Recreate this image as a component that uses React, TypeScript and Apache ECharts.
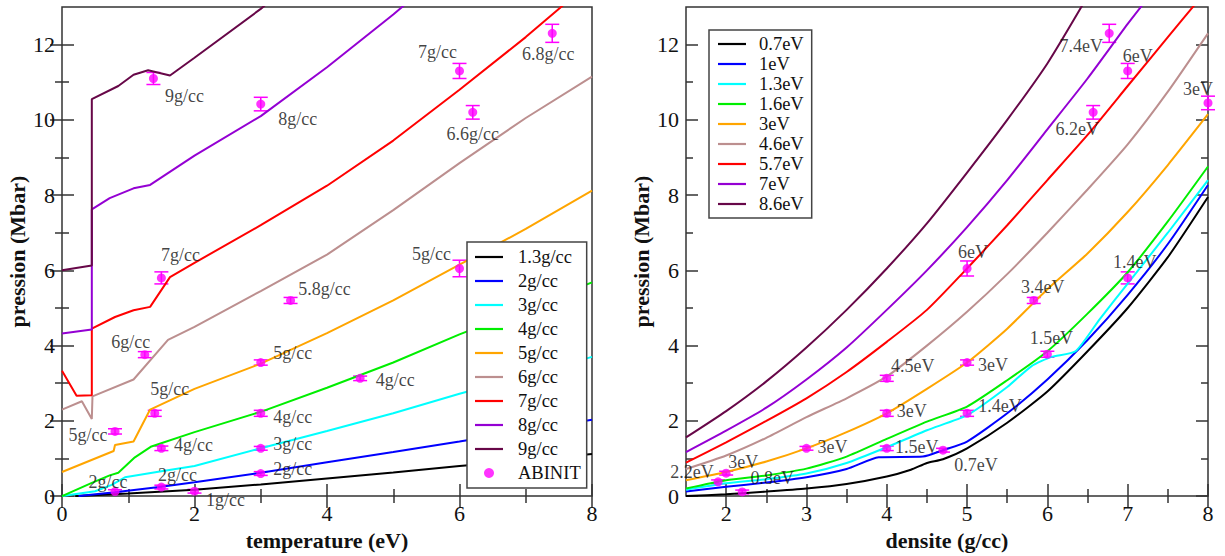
import React, { useEffect, useRef } from 'react';
import * as echarts from 'echarts';

const FONT = 'Liberation Serif';

// ---------- Left panel: pression vs temperature (fixed density) ----------
const leftNames = ['1.3g/cc', '2g/cc', '3g/cc', '4g/cc', '5g/cc', '6g/cc', '7g/cc', '8g/cc', '9g/cc'];
const rho13 = [[0.2, 0], [1, 0.07], [2, 0.17], [3, 0.31], [4, 0.47], [5, 0.63], [6, 0.8], [7, 0.95], [8, 1.12]];
const rho2 = [[0.25, 0], [0.8, 0.1], [1.5, 0.25], [2, 0.37], [3, 0.62], [4, 0.9], [5, 1.17], [6, 1.45], [7, 1.74], [8, 2.03]];
const rho3 = [[0, 0], [0.5, 0.13], [0.75, 0.3], [0.95, 0.5], [1.5, 0.66], [2, 0.8], [3, 1.27], [4, 1.73], [5, 2.2], [6, 2.72], [7, 3.2], [8, 3.7]];
const rho4 = [[0, 0], [0.45, 0.35], [0.72, 0.55], [0.85, 0.62], [1.1, 1.03], [1.35, 1.32], [2, 1.7], [3, 2.24], [4, 2.88], [5, 3.55], [6, 4.3], [7, 4.98], [8, 5.68]];
const rho5 = [[0, 0.64], [0.78, 1.2], [0.8, 1.36], [1.08, 1.45], [1.33, 2.3], [2, 2.85], [3, 3.52], [4, 4.33], [5, 5.2], [6, 6.15], [7, 7.1], [8, 8.12]];
const rho6 = [[0, 2.3], [0.3, 2.52], [0.45, 2.05], [0.46, 2.65], [1.08, 3.1], [1.6, 4.15], [2, 4.5], [3, 5.45], [4, 6.42], [5, 7.6], [6, 8.85], [7, 10.05], [8, 11.15]];
const rho7 = [[0, 3.33], [0.22, 2.67], [0.45, 2.68], [0.45, 4.45], [0.8, 4.76], [1.08, 4.94], [1.33, 5.03], [1.63, 5.82], [2, 6.2], [3, 7.2], [4, 8.25], [5, 9.45], [6, 10.8], [7, 12.2], [7.6, 13.1]];
const rho8 = [[0, 4.32], [0.45, 4.43], [0.45, 7.62], [0.72, 7.92], [1.08, 8.18], [1.33, 8.27], [2, 9.05], [3, 10.1], [4, 11.4], [5, 12.8], [5.2, 13.1]];
const rho9 = [[0, 6.0], [0.45, 6.13], [0.45, 10.55], [0.85, 10.9], [1.08, 11.2], [1.3, 11.32], [1.63, 11.18], [2, 11.65], [3, 12.95], [3.1, 13.1]];
const leftCurves = [rho13, rho2, rho3, rho4, rho5, rho6, rho7, rho8, rho9];

// ---------- Right panel: pression vs densite (fixed temperature) ----------
const rightNames = ['0.7eV', '1eV', '1.3eV', '1.6eV', '3eV', '4.6eV', '5.7eV', '7eV', '8.6eV'];
const t07 = [[1.5, 0.0], [2, 0.05], [2.5, 0.12], [3, 0.2], [3.5, 0.32], [4, 0.52], [4.3, 0.7], [4.5, 0.88], [4.7, 0.98], [5, 1.27], [5.5, 1.95], [6, 2.78], [6.5, 3.85], [7, 5.0], [7.5, 6.35], [8, 7.95]];
const t1 = [[1.5, 0.12], [2, 0.25], [2.5, 0.36], [3, 0.5], [3.5, 0.72], [3.9, 1.03], [4.45, 1.05], [4.7, 1.22], [5, 1.45], [5.5, 2.2], [6, 3.1], [6.5, 4.15], [7, 5.35], [7.5, 6.7], [8, 8.27]];
const t13 = [[1.5, 0.17], [2, 0.34], [2.5, 0.45], [3, 0.6], [3.5, 0.88], [4, 1.3], [4.5, 1.75], [5, 2.15], [5.5, 2.9], [5.8, 3.45], [6.05, 3.7], [6.35, 3.85], [6.65, 4.7], [7, 5.65], [7.5, 7.0], [8, 8.4]];
const t16 = [[1.5, 0.2], [2, 0.42], [2.5, 0.55], [3, 0.73], [3.5, 1.05], [4, 1.52], [4.5, 1.98], [5, 2.38], [5.5, 3.08], [6, 3.85], [6.5, 4.85], [7, 5.95], [7.5, 7.3], [8, 8.76]];
const t3 = [[1.5, 0.42], [2, 0.64], [2.5, 0.92], [3, 1.27], [3.5, 1.7], [4, 2.2], [4.5, 2.85], [5, 3.55], [5.5, 4.45], [6, 5.5], [6.5, 6.45], [7, 7.55], [7.5, 8.8], [8, 10.15]];
const t46 = [[1.5, 0.72], [2, 1.08], [2.5, 1.55], [3, 2.1], [3.5, 2.6], [4, 3.18], [4.5, 4.0], [5, 4.9], [5.5, 5.9], [6, 7.0], [6.5, 8.15], [7, 9.35], [7.5, 10.75], [8, 12.3]];
const t57 = [[1.5, 0.89], [2, 1.43], [2.5, 2.0], [3, 2.6], [3.5, 3.3], [4, 4.1], [4.5, 4.95], [5, 6.05], [5.5, 7.2], [6, 8.4], [6.5, 9.6], [7, 10.9], [7.5, 12.2], [7.85, 13.1]];
const t7 = [[1.5, 1.17], [2, 1.74], [2.5, 2.35], [3, 3.1], [3.5, 3.95], [4, 4.95], [4.5, 6.0], [5, 7.15], [5.5, 8.4], [6, 9.75], [6.5, 11.1], [7, 12.55], [7.2, 13.1]];
const t86 = [[1.5, 1.56], [2, 2.26], [2.5, 3.05], [3, 3.95], [3.5, 4.95], [4, 6.05], [4.5, 7.25], [5, 8.6], [5.5, 10.0], [6, 11.5], [6.45, 13.1]];
const rightCurves = [t07, t1, t13, t16, t3, t46, t57, t7, t86];

const curveColors = ['#000000', '#0000ff', '#00ffff', '#00ee00', '#ffa500', '#bc8f8f', '#ff0000', '#9400d3', '#670748'];

// ---------- ABINIT points ----------
const abLT = [0.8, 1.5, 2.0, 3.0, 3.0, 3.0, 3.0, 1.5, 1.4, 0.8, 1.25, 1.5, 3.45, 4.5, 6.0, 1.38, 3.0, 6.0, 6.2, 7.4];
const abLP = [0.12, 0.24, 0.13, 0.6, 1.27, 2.2, 3.55, 1.27, 2.2, 1.72, 3.76, 5.8, 5.2, 3.13, 6.05, 11.1, 10.42, 11.3, 10.2, 12.3];
const abLErr = [0.05, 0.05, 0.05, 0.05, 0.05, 0.08, 0.07, 0.06, 0.08, 0.07, 0.08, 0.16, 0.08, 0.06, 0.22, 0.16, 0.18, 0.2, 0.18, 0.24];
const abLLabels = ['2g/cc', '2g/cc', '1g/cc', '2g/cc', '3g/cc', '4g/cc', '5g/cc', '4g/cc', '5g/cc', '5g/cc', '6g/cc', '7g/cc', '5.8g/cc', '4g/cc', '5g/cc', '9g/cc', '8g/cc', '7g/cc', '6.6g/cc', '6.8g/cc'];
const abLOffsets = [[-7, -10], [16, -12], [31, 9], [32, -5], [32, -4], [32, 4], [32, -10], [32, -3], [15, -24], [-27, 4], [-14, -13], [19, -23], [34, -11], [35, 2], [-28, -14], [31, 18], [37, 15], [-22, -19], [0, 22], [-4, 21]];

const abRRho = [1.9, 2.0, 2.2, 3.0, 4.0, 4.0, 4.0, 4.7, 5.0, 5.0, 5.0, 5.83, 6.0, 7.0, 6.57, 6.77, 7.0, 8.0];
const abRP = [0.38, 0.61, 0.11, 1.27, 1.27, 2.2, 3.13, 1.22, 2.2, 3.55, 6.05, 5.2, 3.77, 5.8, 10.2, 12.3, 11.3, 10.45];
const abRErr = [0.05, 0.05, 0.05, 0.05, 0.06, 0.08, 0.08, 0.05, 0.08, 0.07, 0.2, 0.08, 0.08, 0.16, 0.18, 0.24, 0.2, 0.18];
const abRLabels = ['2.2eV', '3eV', '0.8eV', '3eV', '1.5eV', '3eV', '4.5eV', '0.7eV', '1.4eV', '3eV', '6eV', '3.4eV', '1.5eV', '1.4eV', '6.2eV', '7.4eV', '6eV', '3eV'];
const abROffsets = [[-26, -10], [17, -11], [30, -14], [26, -1], [30, -1], [25, -2], [26, -12], [33, 15], [33, -7], [26, 2], [6, -16], [9, -13], [4, -16], [7, -16], [-16, 17], [-28, 13], [10, -15], [-10, -14]];

// ---------- Tick values ----------
const leftXMajor = [0, 2, 4, 6, 8];
const leftXMinor = [1, 3, 5, 7];
const rightXMajor = [2, 3, 4, 5, 6, 7, 8];
const rightXMinor = [2.5, 3.5, 4.5, 5.5, 6.5, 7.5];
const yMajor = [0, 2, 4, 6, 8, 10, 12];
const yMinor = [1, 3, 5, 7, 9, 11];

const AXIS_COLOR = '#333';
const MAGENTA = '#ff00ff';
const LINE_ICON = 'path://M0,0 L28,0 L28,2.2 L0,2.2 Z';

function makeAxes(kind: 'x' | 'y', gridIndex: number, min: number, max: number, major: number[], minor: number[], name: string) {
  const sides = kind === 'x' ? ['bottom', 'top'] : ['left', 'right'];
  const axes: any[] = [];
  sides.forEach((pos, si) => {
    [major, minor].forEach((vals, mi) => {
      const isMain = si === 0 && mi === 0;
      axes.push({
        type: 'value',
        gridIndex,
        position: pos,
        min,
        max,
        axisLine: { show: false },
        splitLine: { show: false },
        axisTick: {
          show: true,
          inside: true,
          length: mi === 0 ? 12 : 7,
          customValues: vals,
          lineStyle: { color: AXIS_COLOR, width: 1.5 },
        },
        axisLabel: isMain
          ? {
              show: true,
              customValues: major,
              fontFamily: FONT,
              fontSize: 22,
              color: '#111',
              margin: kind === 'x' ? 6 : 7,
            }
          : { show: false },
        name: isMain ? name : '',
        nameLocation: 'middle',
        nameGap: kind === 'x' ? 26 : 34,
        nameTextStyle: { fontFamily: FONT, fontSize: 22, fontWeight: 'bold', color: '#111' },
      });
    });
  });
  return axes;
}

function errorSeries(xs: number[], ys: number[], es: number[], xAxisIndex: number, yAxisIndex: number) {
  return {
    type: 'custom',
    xAxisIndex,
    yAxisIndex,
    silent: true,
    clip: false,
    z: 3,
    encode: { x: 0, y: 1 },
    data: xs.map((x, i) => [x, ys[i], es[i]]),
    renderItem: (params: any, api: any) => {
      const x = api.value(0);
      const y = api.value(1);
      const e = api.value(2);
      const top = api.coord([x, y + e]);
      const bot = api.coord([x, y - e]);
      const hw = 7;
      const st = { stroke: MAGENTA, lineWidth: 1.5 };
      return {
        type: 'group',
        children: [
          { type: 'line', shape: { x1: top[0], y1: top[1], x2: bot[0], y2: bot[1] }, style: st },
          { type: 'line', shape: { x1: top[0] - hw, y1: top[1], x2: top[0] + hw, y2: top[1] }, style: st },
          { type: 'line', shape: { x1: bot[0] - hw, y1: bot[1], x2: bot[0] + hw, y2: bot[1] }, style: st },
        ],
      };
    },
  };
}

function pointSeries(xs: number[], ys: number[], labels: string[], offsets: number[][], xAxisIndex: number, yAxisIndex: number) {
  return {
    type: 'scatter',
    name: 'ABINIT',
    xAxisIndex,
    yAxisIndex,
    symbol: 'circle',
    symbolSize: 9,
    clip: false,
    z: 4,
    itemStyle: { color: MAGENTA },
    label: {
      show: true,
      position: 'inside',
      fontFamily: FONT,
      fontSize: 18,
      color: '#111',
    },
    data: xs.map((x, i) => ({
      value: [x, ys[i]],
      label: { formatter: labels[i], offset: offsets[i] },
    })),
  };
}

export default function App() {
  const ref = useRef<HTMLDivElement>(null);

  useEffect(() => {
    if (!ref.current) return;
    const chart = echarts.init(ref.current, undefined, { renderer: 'svg' });

    const xAxes = [
      ...makeAxes('x', 0, 0, 8, leftXMajor, leftXMinor, 'temperature (eV)'),
      ...makeAxes('x', 1, 1.5, 8, rightXMajor, rightXMinor, 'densite (g/cc)'),
    ];
    const yAxes = [
      ...makeAxes('y', 0, 0, 13, yMajor, yMinor, 'pression (Mbar)'),
      ...makeAxes('y', 1, 0, 13, yMajor, yMinor, 'pression (Mbar)'),
    ];
    const series: any[] = [];
    leftCurves.forEach((d, i) => {
      series.push({
        type: 'line',
        name: leftNames[i],
        xAxisIndex: 0,
        yAxisIndex: 0,
        data: d,
        symbol: 'none',
        clip: true,
        lineStyle: { color: curveColors[i], width: 2 },
        itemStyle: { color: curveColors[i] },
      });
    });
    rightCurves.forEach((d, i) => {
      series.push({
        type: 'line',
        name: rightNames[i],
        xAxisIndex: 4,
        yAxisIndex: 4,
        data: d,
        symbol: 'none',
        smooth: 0.2,
        clip: true,
        lineStyle: { color: curveColors[i], width: 2 },
        itemStyle: { color: curveColors[i] },
      });
    });
    series.push(errorSeries(abLT, abLP, abLErr, 0, 0));
    series.push(pointSeries(abLT, abLP, abLLabels, abLOffsets, 0, 0));
    series.push(errorSeries(abRRho, abRP, abRErr, 4, 4));
    series.push(pointSeries(abRRho, abRP, abRLabels, abROffsets, 4, 4));

    const legendCommon = {
      orient: 'vertical',
      itemWidth: 28,
      itemHeight: 10,
      itemGap: 0,
      backgroundColor: '#fff',
      borderColor: '#444',
      borderWidth: 1.5,
      borderRadius: 0,
      selectedMode: false,
      z: 10,
    };

    chart.setOption({
      animation: false,
      backgroundColor: '#fff',
      grid: [
        { left: 62, top: 7, width: 530, height: 494, show: true, borderColor: AXIS_COLOR, borderWidth: 1.5, backgroundColor: 'transparent' },
        { left: 686, top: 7, width: 522, height: 494, show: true, borderColor: AXIS_COLOR, borderWidth: 1.5, backgroundColor: 'transparent' },
      ],
      xAxis: xAxes,
      yAxis: yAxes,
      legend: [
        {
          ...legendCommon,
          data: [...leftNames.map((n) => ({ name: n, icon: LINE_ICON })), { name: 'ABINIT', icon: 'circle' }],
          left: 467,
          top: 242,
          padding: [3, 6, 3, 8],
          textStyle: { fontFamily: FONT, fontSize: 18.5, color: '#111', lineHeight: 24, padding: [0, 0, 0, 10] },
        },
        {
          ...legendCommon,
          data: rightNames.map((n) => ({ name: n, icon: LINE_ICON })),
          left: 709,
          top: 30,
          padding: [4, 8, 4, 9],
          textStyle: { fontFamily: FONT, fontSize: 18.5, color: '#111', lineHeight: 20, padding: [0, 0, 0, 8] },
        },
      ],
      series,
    });

    return () => {
      chart.dispose();
    };
  }, []);

  return <div ref={ref} style={{ position: 'absolute', left: 0, top: 0, width: 1225, height: 556 }} />;
}
